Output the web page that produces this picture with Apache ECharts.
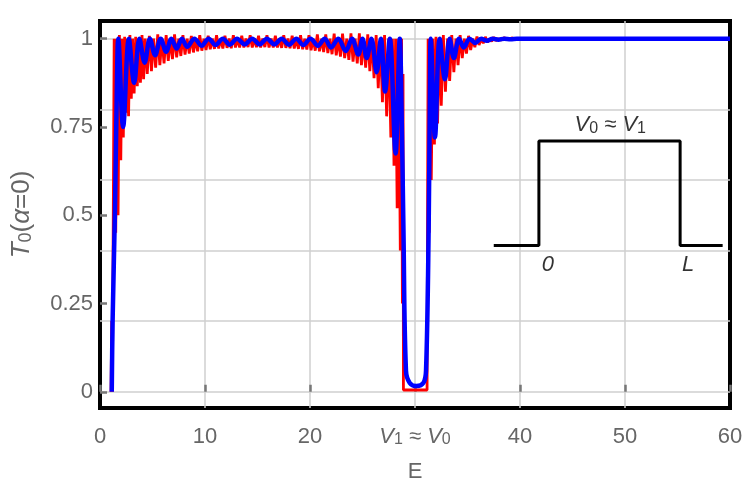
<!DOCTYPE html>
<html><head><meta charset="utf-8">
<script src="https://cdn.jsdelivr.net/npm/echarts@6/dist/echarts.min.js"></script>
<style>html,body{margin:0;padding:0;background:#fff}#c{width:750px;height:494px}</style>
</head><body><div id="c"></div>
<script>
// ---- data ----
const xTickLabels = {30: '{v|V}{s|1}{n| ≈ }{v|V}{s|0}'};
const yTickValues = [0, 0.25, 0.5, 0.75, 1];
const yGridValues = [0, 0.2, 0.4, 0.6, 0.8, 1];

// red curve (fast oscillation), [E, T]
const redCurve = [
[1.05,0],[1.12,0.2],[1.18,0],[1.35,1.0],[1.5,0.45],[1.62,1.0],[1.72,0.5],[1.85,1.01],[1.98,0.656],[2.1,1.0],
[2.22,0.72],[2.35,1.005],[2.48,0.79],[2.6,1.0],[2.72,0.78],[2.85,1.01],[2.98,0.83],[3.1,1.0],[3.25,0.845],[3.4,1.005],
[3.55,0.865],[3.7,1.0],[3.85,0.875],[4.0,1.01],[4.15,0.885],[4.3,1.0],[4.5,0.9],[4.7,1.008],[4.9,0.908],[5.1,1.0],
[5.3,0.918],[5.5,1.012],[5.7,0.925],[5.9,1.0],[6.1,0.93],[6.3,1.01],[6.5,0.937],[6.7,1.0],[6.9,0.942],[7.1,1.012],
[7.3,0.947],[7.5,1.0],[7.7,0.951],[7.9,1.01],[8.1,0.955],[8.3,1.0],[8.5,0.958],[8.7,1.008],[8.9,0.961],[9.1,1.0],
[9.3,0.964],[9.5,1.01],[9.7,0.966],[9.9,1.0],[10.1,0.968],[10.3,1.008],[10.5,0.97],[10.7,1.0],[10.9,0.971],[11.1,1.01],
[11.3,0.972],[11.5,1.0],[11.7,0.972],[11.9,1.008],[12.1,0.974],[12.3,1.0],[12.5,0.973],[12.7,1.01],[12.9,0.975],[13.1,1.0],
[13.3,0.975],[13.5,1.008],[13.7,0.975],[13.9,1.0],[14.1,0.976],[14.3,1.01],[14.5,0.975],[14.7,1.0],[14.9,0.976],[15.1,1.008],
[15.3,0.975],[15.5,1.0],[15.7,0.976],[15.9,1.01],[16.1,0.975],[16.3,1.0],[16.5,0.975],[16.7,1.008],[16.9,0.975],[17.1,1.0],
[17.3,0.974],[17.5,1.01],[17.7,0.974],[17.9,1.0],[18.1,0.973],[18.3,1.008],[18.5,0.972],[18.7,1.0],[18.9,0.971],[19.1,1.01],
[19.3,0.97],[19.5,1.0],[19.7,0.969],[19.9,1.01],[20.1,0.967],[20.3,1.0],[20.5,0.966],[20.7,1.012],[20.9,0.964],[21.1,1.0],
[21.3,0.962],[21.5,1.012],[21.7,0.959],[21.9,1.0],[22.1,0.956],[22.3,1.014],[22.5,0.953],[22.7,1.0],[22.9,0.949],[23.1,1.014],
[23.3,0.945],[23.5,1.0],[23.7,0.94],[23.9,1.015],[24.1,0.935],[24.3,1.0],[24.5,0.93],[24.7,1.015],[24.9,0.925],[25.1,1.0],
[25.3,0.918],[25.5,1.012],[25.7,0.908],[25.9,1.0],[26.1,0.888],[26.3,1.01],[26.5,0.86],[26.7,1.0],[26.9,0.82],[27.1,1.01],
[27.3,0.78],[27.5,1.0],[27.7,0.72],[27.85,1.0],[28.0,0.64],[28.15,1.0],[28.3,0.52],[28.45,1.0],[28.6,0.4],[28.72,1.0],
[28.8,0.25],[28.86,0.9],[28.9,0.005],[31.15,0.005],[31.18,0.35],[31.25,1.0],[31.35,0.45],[31.45,1.0],[31.55,0.6],[31.7,1.0],
[31.85,0.7],[32.0,1.005],[32.15,0.76],[32.3,1.0],[32.5,0.81],[32.7,1.01],[32.9,0.85],[33.1,1.0],[33.3,0.88],[33.5,1.01],
[33.7,0.905],[33.9,1.0],[34.1,0.925],[34.3,1.01],[34.5,0.945],[34.7,1.0],[34.9,0.958],[35.1,1.008],[35.3,0.968],[35.5,1.0],
[35.7,0.976],[35.9,1.006],[36.1,0.982],[36.3,1.0],[36.5,0.987],[36.7,1.005],[36.9,0.99],[37.1,1.0],[37.3,0.992],[37.5,1.004],
[37.7,0.994],[37.9,1.0],[38.2,0.996],[38.5,1.003],[38.8,0.997],[39.2,1.002],[39.6,0.998],[40,1.0],[60,1.0]
];

// blue curve (slower oscillation), [E, T]
const blueCurve = [
[1.12,0],[1.2,0.2],[1.43,0.52],[1.6,0.85],[1.74,1.0],
[2.2,0.75],[2.75,1.0],[3.25,0.875],[3.75,1.0],[4.25,0.932],[4.75,1.0],[5.25,0.953],[5.78,1.0],[6.3,0.963],[6.8,1.0],
[7.3,0.972],[7.8,1.0],[8.3,0.977],[9.0,1.0],[9.67,0.98],[10.35,1.0],[11.0,0.982],[11.7,1.0],[12.36,0.983],[13.05,1.0],
[13.78,0.984],[14.5,1.0],[15.2,0.984],[15.9,1.0],[16.6,0.984],[17.3,1.0],[18.0,0.983],[18.7,1.0],[19.35,0.982],[20.05,1.0],
[20.75,0.98],[21.4,1.0],[22.0,0.975],[22.7,1.0],[23.4,0.965],[24.0,1.0],[24.6,0.955],[25.0,1.0],[25.4,0.945],[25.85,1.0],
[26.35,0.905],[26.75,1.0],[27.15,0.85],[27.6,1.0],[28.15,0.675],[28.55,1.0],[28.72,0.8],[28.9,0.46],[29.14,0.06],[29.5,0.025],
[30.15,0.016],[30.8,0.025],[31.05,0.06],[31.3,0.46],[31.42,0.85],[31.5,1.0],[31.9,0.72],[32.35,1.0],[32.85,0.885],[33.3,1.0],
[33.7,0.945],[34.2,1.0],[34.65,0.975],[35.2,1.0],[35.75,0.988],[36.3,1.0],[36.85,0.994],[37.4,1.0],[37.95,0.997],[38.5,1.0],
[39.1,0.998],[39.7,1.0],[45,1.0],[50,1.0],[55,1.0],[60,1.0]
];

// inset sketch of the barrier, in data units
const insetE = [37.5, 41.8, 41.8, 55.25, 55.25, 59.3];
const insetT = [0.414, 0.414, 0.71, 0.71, 0.414, 0.414];
const insetLabelE = [48.6, 42.65, 56.0];
const insetLabelT = [0.755, 0.358, 0.358];
const insetLabelText = ['{v|V}{s|0}{n| ≈ }{v|V}{s|1}', '{v|0}', '{v|L}'];

// ---- chart ----
const FONT = 'Liberation Sans, Arial, sans-serif';
const GRAY = '#666';
const chart = echarts.init(document.getElementById('c'), null, {renderer: 'canvas'});

function makeRich(color, big, small) {
  return {
    v: {fontStyle: 'italic', fontSize: big, lineHeight: big, verticalAlign: 'top', color: color, fontFamily: FONT},
    n: {fontSize: big, lineHeight: big, verticalAlign: 'top', color: color, fontFamily: FONT},
    s: {fontSize: small, lineHeight: small + 2, verticalAlign: 'bottom', color: color, fontFamily: FONT, padding: [10, 0, 0, 0]}
  };
}

const option = {
  animation: false,
  backgroundColor: '#fff',
  textStyle: {fontFamily: FONT},
  grid: {left: 100, right: 20, top: 21, bottom: 86, show: true, borderColor: '#000', borderWidth: 4,
         backgroundColor: 'transparent', containLabel: false, outerBoundsMode: 'none'},
  xAxis: {
    type: 'value', min: 0, max: 60, interval: 10,
    axisLine: {show: false},
    axisTick: {show: true, inside: true, length: 7, lineStyle: {color: '#777', width: 2.5}},
    axisLabel: {
      margin: 18, fontSize: 22, color: GRAY, fontFamily: FONT, rich: makeRich(GRAY, 22, 16),
      formatter: v => xTickLabels[v] !== undefined ? xTickLabels[v] : String(v)
    },
    splitLine: {show: true, showMinLine: false, showMaxLine: false, lineStyle: {color: '#cfcfcf', width: 1.5}},
    name: 'E', nameLocation: 'middle', nameGap: 53,
    nameTextStyle: {fontSize: 22, color: GRAY, fontFamily: FONT}
  },
  yAxis: [{
    type: 'value', min: -0.046, max: 1.05,
    axisLine: {show: false},
    axisTick: {show: true, inside: true, length: 7, customValues: yTickValues, lineStyle: {color: '#777', width: 2.5}},
    axisLabel: {customValues: yTickValues, margin: 7, fontSize: 22, color: GRAY, fontFamily: FONT},
    splitLine: {show: false},
    name: '{v|T}{s|0}{n|(}{v|α}{n|=0)}', nameLocation: 'middle', nameGap: 65, nameRotate: 90,
    nameTextStyle: {rich: makeRich(GRAY, 26, 18), fontSize: 26, color: GRAY}
  }, {
    type: 'value', min: -0.046, max: 1.05, position: 'left',
    axisLine: {show: false},
    axisTick: {show: false, customValues: yGridValues},
    axisLabel: {show: false, customValues: yGridValues},
    splitLine: {show: true, lineStyle: {color: '#cfcfcf', width: 1.5}}
  }],
  series: [
    {type: 'line', name: 'red', data: redCurve, yAxisIndex: 0, showSymbol: false, symbol: 'none',
     lineStyle: {color: '#ff0000', width: 2.8}, z: 2},
    {type: 'line', name: 'blue', data: blueCurve, yAxisIndex: 0, showSymbol: false, symbol: 'none', smooth: 0.35,
     lineStyle: {color: '#0000ff', width: 4.5}, z: 3},
    {type: 'line', name: 'inset', data: insetE.map((e, i) => [e, insetT[i]]), yAxisIndex: 0, showSymbol: false, symbol: 'none',
     lineStyle: {color: '#000', width: 3}, z: 4},
    {type: 'scatter', name: 'insetLabels', yAxisIndex: 0, symbolSize: 1, itemStyle: {color: 'rgba(0,0,0,0)'},
     data: insetLabelE.map((e, i) => [e, insetLabelT[i], insetLabelText[i]]),
     label: {show: true, position: 'inside', formatter: p => p.data[2], rich: makeRich('#000', 22, 16), color: '#000'}, z: 5}
  ]
};
chart.setOption(option);
</script>
</body></html>
